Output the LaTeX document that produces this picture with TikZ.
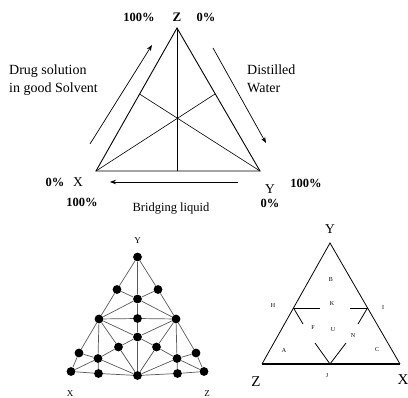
\documentclass[tikz,border=0pt]{standalone}
\usepackage{fontspec}
\setmainfont{Liberation Serif}
\usetikzlibrary{arrows.meta}
\begin{document}
\begin{tikzpicture}[>={Stealth[length=6pt,width=4.5pt]}, x=1pt, y=-1pt,
  pct/.style={font=\fontsize{12.5}{12.5}\selectfont\bfseries, inner sep=0pt},
  txt/.style={font=\fontsize{14}{18}\selectfont, inner sep=0pt, align=left},
  vlbl/.style={font=\fontsize{13.5}{13.5}\selectfont, inner sep=0pt},
  slbl/.style={font=\fontsize{9}{9}\selectfont, inner sep=0pt},
  wee/.style={font=\fontsize{6}{6}\selectfont, inner sep=0pt},
  dot/.style={circle, fill, inner sep=0pt, minimum size=8.8pt},
  net/.style={draw=black!65, line width=0.7pt}]
\useasboundingbox (0,0) rectangle (408,398);

% top triangle
\coordinate (zt) at (177,28);
\coordinate (xt) at (96,171);
\coordinate (yt) at (260,171);
\coordinate (mz) at (177,171);
\coordinate (ml) at (139.5,94);
\coordinate (mr) at (215,94);
\draw[line width=0.9pt] (xt) -- (zt) -- (yt) -- cycle;
\draw[line width=0.9pt] (zt) -- (mz);
\draw[line width=0.6pt] (xt) -- (mr);
\draw[line width=0.6pt] (yt) -- (ml);

\coordinate (ds) at (90,144);
\coordinate (de) at (152,45);
\coordinate (ws) at (213,48);
\coordinate (we) at (266,143);
\coordinate (bs) at (238,182);
\coordinate (be) at (110,182);
\draw[->, line width=0.7pt] (ds) -- (de);
\draw[->, line width=0.7pt] (ws) -- (we);
\draw[->, line width=0.7pt] (bs) -- (be);

\node[pct] (p100z) at (139,17.5) {100\%};
\node[pct, font=\fontsize{13}{13}\selectfont\bfseries] (lz) at (177,17) {Z};
\node[pct] (p0z) at (206,17.5) {0\%};
\node[txt, anchor=west] (drug) at (9,80) {Drug solution\\in good Solvent};
\node[txt, anchor=west] (water) at (247,79) {Distilled\\Water};
\node[pct] (p0x) at (55,182) {0\%};
\node[vlbl] (lx) at (78,182) {X};
\node[pct] (p100x) at (82,202) {100\%};
\node[vlbl] (ly) at (270,189) {Y};
\node[pct] (p100y) at (306,183) {100\%};
\node[pct] (p0y) at (270,203) {0\%};
\node[font=\fontsize{12.5}{12.5}\selectfont, inner sep=0pt] (bridge) at (171,209) {Bridging liquid};

% mixture design net
\node[dot] (p1) at (137.5,257) {};
\node[dot] (p2) at (117,289.5) {};
\node[dot] (p3) at (158,289.5) {};
\node[dot] (p4) at (137.5,299) {};
\node[dot] (p5) at (99,319) {};
\node[dot] (p6) at (137.5,318.5) {};
\node[dot] (p7) at (176,319) {};
\node[dot] (p8) at (137.5,337) {};
\node[dot] (p9) at (118.5,347) {};
\node[dot] (p10) at (156.5,347) {};
\node[dot] (p11) at (79,353) {};
\node[dot] (p12) at (98,358.5) {};
\node[dot] (p13) at (177,358.5) {};
\node[dot] (p14) at (196,353) {};
\node[dot] (p15) at (71,371.5) {};
\node[dot] (p16) at (98.5,373.5) {};
\node[dot] (p17) at (137.5,375.5) {};
\node[dot] (p18) at (177.5,373.5) {};
\node[dot] (p19) at (204,371.5) {};
\draw[net] (p15) -- (p11) -- (p5) -- (p2) -- (p1) -- (p3) -- (p7) -- (p14) -- (p19) -- (p18) -- (p17) -- (p16) -- (p15);
\draw[net] (p1) -- (p4) -- (p6) -- (p8) -- (p17);
\draw[net] (p5) -- (p6) -- (p7);
\draw[net] (p2) -- (p4) -- (p3);
\draw[net] (p5) -- (p4) -- (p7);
\draw[net] (p5) -- (p8) -- (p7);
\draw[net] (p5) -- (p9) -- (p17) -- (p10) -- (p7);
\draw[net] (p9) -- (p8) -- (p10);
\draw[net] (p9) -- (p12);
\draw[net] (p10) -- (p13);
\draw[net] (p5) -- (p12) -- (p16);
\draw[net] (p7) -- (p13) -- (p18);
\draw[net] (p11) -- (p12) -- (p17) -- (p13) -- (p14);
\draw[net] (p15) -- (p12);
\draw[net] (p19) -- (p13);
\node[slbl] (nety) at (137.5,241) {Y};
\node[slbl] (netx) at (70,394) {X};
\node[slbl] (netz) at (207,394) {Z};

% region triangle
\coordinate (yr) at (330,243);
\coordinate (zr) at (262,364);
\coordinate (xr) at (400,364);
\coordinate (hr) at (293.5,308);
\coordinate (ir) at (367.5,308);
\coordinate (jr) at (330,364);
\coordinate (hk) at (320,308);
\coordinate (ik) at (350,308);
\coordinate (hf) at (303,324);
\coordinate (iv) at (358,324);
\coordinate (jf) at (315,343);
\coordinate (jv) at (346,343);
\draw[line width=0.8pt] (zr) -- (yr) -- (xr);
\draw[line width=1.4pt] (zr) -- (xr);
\draw[line width=0.8pt] (hr) -- (hk);
\draw[line width=0.8pt] (ik) -- (ir);
\draw[line width=0.8pt] (hr) -- (hf);
\draw[line width=0.8pt] (ir) -- (iv);
\draw[line width=0.8pt] (jf) -- (jr) -- (jv);
\node[vlbl] (ry) at (330,229) {Y};
\node[font=\fontsize{15}{15}\selectfont, inner sep=0pt] (rz) at (256,382) {Z};
\node[font=\fontsize{15}{15}\selectfont, inner sep=0pt] (rx) at (403,380) {X};
\node[wee] (lh) at (273,306) {H};
\node[wee] (li) at (383,308) {I};
\node[wee] (lk) at (332,304) {K};
\node[wee] (lb) at (331,280) {B};
\node[wee] (lf) at (313,328) {F};
\node[wee] (lu) at (333,330) {U};
\node[wee] (ln) at (353,336) {N};
\node[wee] (la) at (284,351) {A};
\node[wee] (lc) at (377,350) {C};
\node[wee] (lj) at (327,376) {J};
\end{tikzpicture}
\end{document}
